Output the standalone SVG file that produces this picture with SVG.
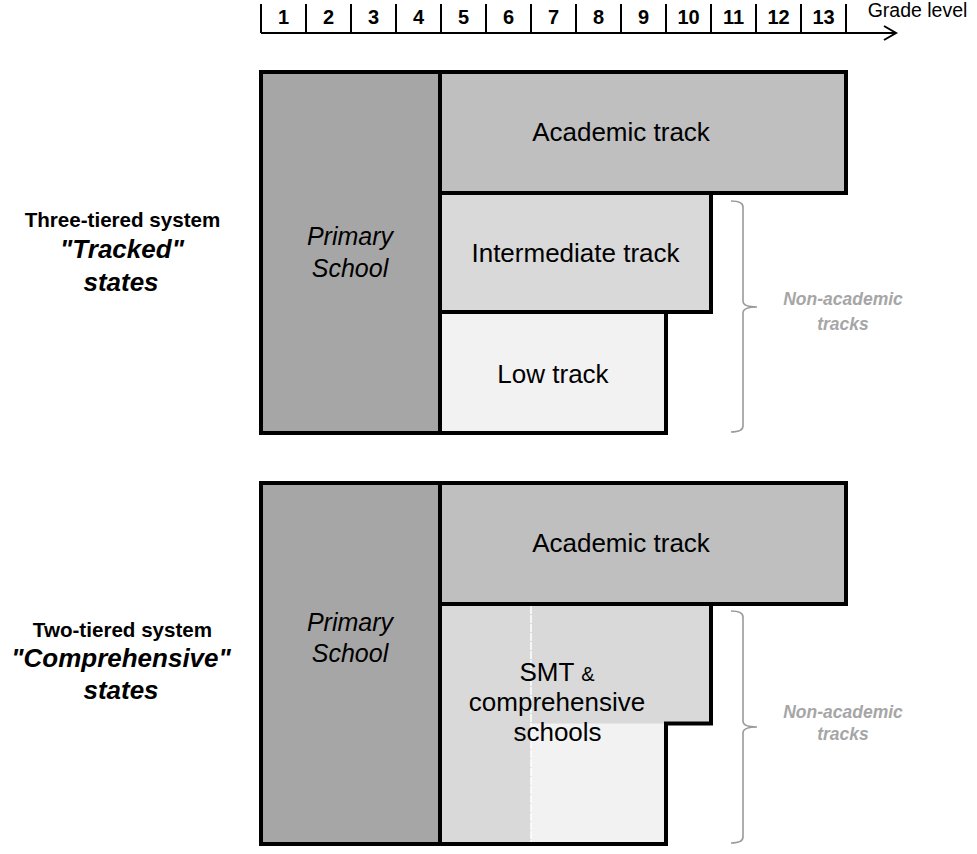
<svg xmlns="http://www.w3.org/2000/svg" width="977" height="854" viewBox="0 0 977 854">
<style>
.t{font-family:"Liberation Sans",Arial,sans-serif;fill:#000;text-anchor:middle}
.box{font-size:26px}
.ps{font-size:25px;font-style:italic}
.num{font-size:20px;font-weight:bold}
.lab{font-size:20.6px;font-weight:bold}
.emp{font-size:26px;font-weight:bold;font-style:italic}
.na{font-family:"Liberation Sans",Arial,sans-serif;font-size:17.5px;font-weight:bold;font-style:italic;fill:#a6a6a6;text-anchor:middle}
.edge{fill:none;stroke:#000;stroke-width:4;stroke-linecap:square}
.ax{fill:none;stroke:#000;stroke-width:2}
.brace{fill:none;stroke:#9a9a9a;stroke-width:1.6}
</style>
<rect width="977" height="854" fill="#fff"/>

<g id="axis">
<path class="ax" d="M261,33 H896 M884,26 L896,33 L884,40"/>
<path class="ax" d="M261,4V33 M306,4V33 M351,4V33 M396,4V33 M441,4V33 M486,4V33 M531,4V33 M576,4V33 M621,4V33 M666,4V33 M711,4V33 M756,4V33 M801,4V33 M846,4V33"/>
<text class="t num" x="283.5" y="24">1</text>
<text class="t num" x="328.5" y="24">2</text>
<text class="t num" x="373.5" y="24">3</text>
<text class="t num" x="418.5" y="24">4</text>
<text class="t num" x="463.5" y="24">5</text>
<text class="t num" x="508.5" y="24">6</text>
<text class="t num" x="553.5" y="24">7</text>
<text class="t num" x="598.5" y="24">8</text>
<text class="t num" x="643.5" y="24">9</text>
<text class="t num" x="688.5" y="24">10</text>
<text class="t num" x="733.5" y="24">11</text>
<text class="t num" x="778.5" y="24">12</text>
<text class="t num" x="823.5" y="24">13</text>
<text class="t" x="917.5" y="17" style="font-size:19.5px">Grade level</text>
</g>

<g id="tracked-label">
<text class="t lab" x="122.5" y="227">Three-tiered system</text>
<text class="t emp" x="122" y="258">"Tracked"</text>
<text class="t emp" x="121" y="291">states</text>
</g>

<g id="top-primary">
<rect x="261" y="72" width="179" height="361" fill="#a6a6a6"/>
<text class="t ps" x="350" y="245">Primary</text>
<text class="t ps" x="350" y="277">School</text>
</g>
<g id="top-academic">
<rect x="440" y="72" width="406" height="121" fill="#bfbfbf"/>
<text class="t box" x="621" y="141">Academic track</text>
</g>
<g id="top-intermediate">
<rect x="440" y="193" width="271" height="119" fill="#d9d9d9"/>
<text class="t box" x="575.5" y="262">Intermediate track</text>
</g>
<g id="top-low">
<rect x="440" y="312" width="226" height="121" fill="#f2f2f2"/>
<text class="t box" x="553" y="383">Low track</text>
</g>
<g id="top-edges">
<path class="edge" d="M261,433 V72 H846 V193 H440 M711,193 V312 H440 M666,312 V433 H261 M440,72 V433"/>
</g>

<g id="comprehensive-label">
<text class="t lab" x="122.5" y="637">Two-tiered system</text>
<text class="t emp" x="121" y="667">"Comprehensive"</text>
<text class="t emp" x="121" y="699">states</text>
</g>

<g id="bottom-primary">
<rect x="261" y="483" width="179" height="361" fill="#a6a6a6"/>
<text class="t ps" x="350" y="631">Primary</text>
<text class="t ps" x="350" y="662">School</text>
</g>
<g id="bottom-academic">
<rect x="440" y="483" width="406" height="121" fill="#bfbfbf"/>
<text class="t box" x="621" y="552">Academic track</text>
</g>
<g id="bottom-smt">
<path d="M440,604 H711 V723.5 H666 V844 H440 Z" fill="#d9d9d9"/>
<rect x="531" y="723.5" width="135" height="120.5" fill="#f2f2f2"/>
<line x1="531" y1="606" x2="531" y2="842" stroke="#fff" stroke-width="1.5" stroke-dasharray="8 1"/>
<text class="t box" x="557" y="681">SMT <tspan style="font-size:20px">&amp;</tspan></text>
<text class="t box" x="557" y="711">comprehensive</text>
<text class="t box" x="557.5" y="741">schools</text>
</g>
<g id="bottom-edges">
<path class="edge" d="M261,844 V483 H846 V604 H440 M711,604 V723.5 H666 V844 H261 M440,483 V844"/>
</g>

<g id="connectors">
<path class="brace" d="M731,201 Q743,201 743,207 V301 Q743,307 757,307 Q743,307 743,313 V426 Q743,432 731,432"/>
<path class="brace" d="M731,611 Q743,611 743,617 V721 Q743,727 757,727 Q743,727 743,733 V837 Q743,843 731,843"/>
</g>

<g id="nonacademic-top">
<text class="na" x="843" y="305">Non-academic</text>
<text class="na" x="843" y="330">tracks</text>
</g>
<g id="nonacademic-bottom">
<text class="na" x="843" y="718">Non-academic</text>
<text class="na" x="843" y="740">tracks</text>
</g>
</svg>
